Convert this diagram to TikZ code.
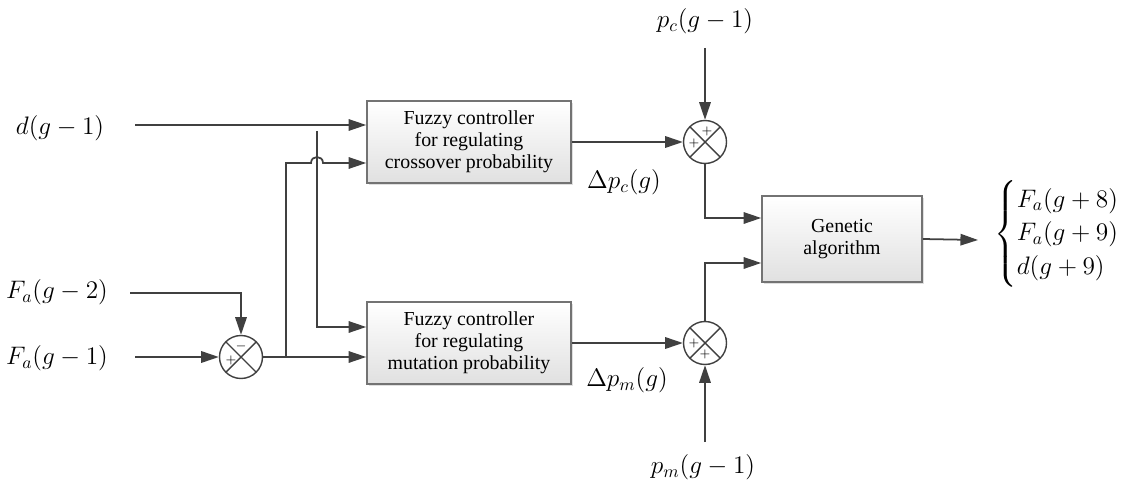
\documentclass[tikz,border=0pt]{standalone}
\usepackage{amsmath}
\usepackage{fontspec}
\setmainfont{Liberation Serif}
\usetikzlibrary{calc,positioning,arrows.meta,shadows}

\begin{document}
\begin{tikzpicture}
        [x=0.02cm,y=-0.02cm,
        flow/.style={draw=black!75,line width=1pt,-{Triangle[length=10pt,width=6.5pt]}},
        ctrl/.style={draw=black!55,line width=0.9pt,top color=white,bottom color=black!12,
          drop shadow={opacity=0.25,shadow xshift=1pt,shadow yshift=-1pt},
          minimum width=4.08cm,minimum height=1.64cm,align=center,
          font=\fontsize{11.3}{12.5}\selectfont},
        sumpt/.style={circle,draw=black!75,line width=0.8pt,minimum size=0.86cm,inner sep=0pt,
          path picture={\draw[black!75,line width=0.8pt]
            (path picture bounding box.south west) -- (path picture bounding box.north east)
            (path picture bounding box.north west) -- (path picture bounding box.south east);}},
        sgn/.style={inner sep=0pt,font=\fontsize{7.5}{8}\selectfont},
        lbl/.style={inner sep=1pt,font=\fontsize{14}{16}\selectfont}]
        \useasboundingbox (0,0) rectangle (1121,486);
        % blocks
        \node[ctrl] (fc) at (469,142) {Fuzzy controller\\for regulating\\crossover probability};
        \node[ctrl] (fm) at (469,343) {Fuzzy controller\\for regulating\\mutation probability};
        \node[ctrl,minimum width=3.2cm,minimum height=1.72cm] (ga) at (842,239) {Genetic\\algorithm};
        \node[sumpt] (s1) at (241,357) {};
        \node[sumpt] (s2) at (705,142) {};
        \node[sumpt] (s3) at (705,343) {};
        % signs
        \node[sgn] at ($(s1)+(0,-11)$) {$-$};
        \node[sgn] at ($(s1)+(-10,3)$) {$+$};
        \node[sgn] at ($(s2)+(2,-11)$) {$+$};
        \node[sgn] at ($(s2)+(-11,1)$) {$+$};
        \node[sgn] at ($(s3)+(-11,0)$) {$+$};
        \node[sgn] at ($(s3)+(0,11)$) {$+$};
        % labels
        \node[lbl] (d1) at (60,128) {$d(g-1)$};
        \node[lbl] (fa2) at (57,292) {$F_a(g-2)$};
        \node[lbl] (fa1) at (57,358) {$F_a(g-1)$};
        \node[lbl] (pc) at (705,21) {$p_c(g-1)$};
        \node[lbl] (pm) at (703,467) {$p_m(g-1)$};
        \node[lbl] (dpc) at (624,182) {$\Delta p_c(g)$};
        \node[lbl] (dpm) at (627,380) {$\Delta p_m(g)$};
        \node[lbl,anchor=west,inner sep=0pt] (res) at (994,234)
          {$\begin{cases}F_a(g+8)\\F_a(g+9)\\d(g+9)\end{cases}$};
        % free ends
        \coordinate (din) at (135,125);
        \coordinate (fa2in) at (130,293);
        \coordinate (fa1in) at (135,357);
        \coordinate (tap) at (317,131);
        \coordinate (br) at (286,357);
        \coordinate (pcin) at (705,48);
        \coordinate (pmin) at (705,442);
        \coordinate (gaout) at (978,240);
        % connectors
        \draw[flow] (din) -- (din -| fc.west);
        \draw[flow] (fa2in) -| (s1);
        \draw[flow] (fa1in) -- (s1);
        \draw[flow] (s1.east) -- (s1 -| fm.west);
        \draw[flow] (br) |- (311,163) .. controls (311,155) and (323,155) .. (323,163)
          -- (fc.west |- 0,163);
        \draw[flow] (tap) |- (fm.west |- 0,327);
        \draw[flow] (fc.east) -- (s2);
        \draw[flow] (fm.east) -- (s3);
        \draw[flow] (pcin) -- (s2);
        \draw[flow] (pmin) -- (s3);
        \draw[flow] (s2) |- (ga.west |- 0,218);
        \draw[flow] (s3) |- (ga.west |- 0,263);
        \draw[flow] (ga.east) -- (gaout);
      \end{tikzpicture}
\end{document}
